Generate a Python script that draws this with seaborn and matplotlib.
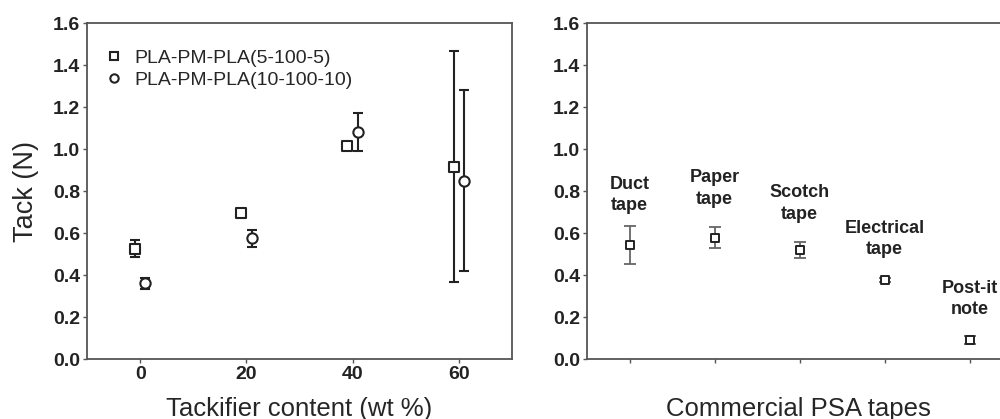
import pandas as pd
import seaborn as sns
import matplotlib.pyplot as plt
from matplotlib.lines import Line2D

# left panel: tack vs tackifier content
tackifier = [0, 20, 40, 60]
tack_5 = [0.525, 0.695, 1.015, 0.915]
err_5 = [0.04, 0.012, 0.012, 0.55]
tack_10 = [0.36, 0.575, 1.08, 0.85]
err_10 = [0.025, 0.04, 0.09, 0.43]
series_names = ['PLA-PM-PLA(5-100-5)', 'PLA-PM-PLA(10-100-10)']

# right panel: commercial tapes
tapes = ['Duct\ntape', 'Paper\ntape', 'Scotch\ntape', 'Electrical\ntape', 'Post-it\nnote']
tape_tack = [0.543, 0.578, 0.519, 0.376, 0.09]
tape_err = [0.09, 0.05, 0.04, 0.01, 0.02]
label_y = [0.69, 0.72, 0.65, 0.48, 0.195]

sns.set_style('ticks')
plt.rcParams['font.family'] = ['Liberation Sans', 'DejaVu Sans']

dark = '#222222'
grey = '#666666'

fig = plt.figure(figsize=(10, 4.19), dpi=100)
ax1 = fig.add_axes([0.087, 0.143, 0.425, 0.802])
ax2 = fig.add_axes([0.587, 0.143, 0.425, 0.802])

df_left = pd.DataFrame({
    'x': [t - 1 for t in tackifier] + [t + 1 for t in tackifier],
    'tack': tack_5 + tack_10,
    'err': err_5 + err_10,
    'series': [series_names[0]] * 4 + [series_names[1]] * 4,
})

for name, marker in zip(series_names, ['s', 'o']):
    d = df_left[df_left['series'] == name]
    ax1.errorbar(d['x'], d['tack'], yerr=d['err'], fmt='none', ecolor=dark,
                 elinewidth=1.5, capsize=3.8, capthick=1.5, zorder=2)
    sns.scatterplot(data=d, x='x', y='tack', marker=marker, s=55, ax=ax1,
                    facecolor='white', edgecolor=dark, linewidth=1.5, zorder=3)

handles = [Line2D([], [], linestyle='none', marker='s', markersize=6, markerfacecolor='white',
                  markeredgecolor=dark, markeredgewidth=1.5),
           Line2D([], [], linestyle='none', marker='o', markersize=6, markerfacecolor='white',
                  markeredgecolor=dark, markeredgewidth=1.5)]
ax1.legend(handles, series_names, loc='upper left', frameon=False, fontsize=14,
           bbox_to_anchor=(0.0, 0.975), handlelength=1.0, handletextpad=0.55,
           labelspacing=0.25, borderaxespad=0.5)

ax1.set_xlim(-10, 70)
ax1.set_ylim(0, 1.6)
ax1.set_xticks([0, 20, 40, 60])
ax1.set_yticks([0.0, 0.2, 0.4, 0.6, 0.8, 1.0, 1.2, 1.4, 1.6])
ax1.set_yticklabels([f'{v:.1f}' for v in ax1.get_yticks()])
ax1.set_xlabel('Tackifier content (wt %)', fontsize=18.5)
ax1.set_ylabel('Tack (N)', fontsize=19.5)
ax1.xaxis.set_label_coords(0.5, -0.112)
ax1.yaxis.set_label_coords(-0.112, 0.5)

df_right = pd.DataFrame({'pos': range(1, 6), 'tack': tape_tack, 'err': tape_err})
ax2.errorbar(df_right['pos'], df_right['tack'], yerr=df_right['err'], fmt='none',
             ecolor=grey, elinewidth=1.3, capsize=4, capthick=1.3, zorder=2)
sns.scatterplot(data=df_right, x='pos', y='tack', marker='s', s=40, ax=ax2,
                facecolor='white', edgecolor=dark, linewidth=1.4, zorder=3)
for p, lab, ly in zip(df_right['pos'], tapes, label_y):
    ax2.text(p, ly, lab, ha='center', va='bottom', fontsize=13, fontweight='bold',
             color='#222222', linespacing=1.35)

ax2.set_xlim(0.5, 5.5)
ax2.set_ylim(0, 1.6)
ax2.set_xticks([1, 2, 3, 4, 5])
ax2.set_xticklabels([])
ax2.set_yticks([0.0, 0.2, 0.4, 0.6, 0.8, 1.0, 1.2, 1.4, 1.6])
ax2.set_yticklabels([f'{v:.1f}' for v in ax2.get_yticks()])
ax2.set_xlabel('Commercial PSA tapes', fontsize=18.5)
ax2.set_ylabel('')
ax2.xaxis.set_label_coords(0.497, -0.112)

for ax in (ax1, ax2):
    for s in ax.spines.values():
        s.set_visible(True)
        s.set_color('#555555')
        s.set_linewidth(1.3)
    ax.tick_params(labelsize=14, length=3, width=1, color='#555555', pad=2)
    for t in ax.get_xticklabels() + ax.get_yticklabels():
        t.set_fontweight('bold')
        t.set_color('#222222')

fig.savefig('out.png', dpi=100)
